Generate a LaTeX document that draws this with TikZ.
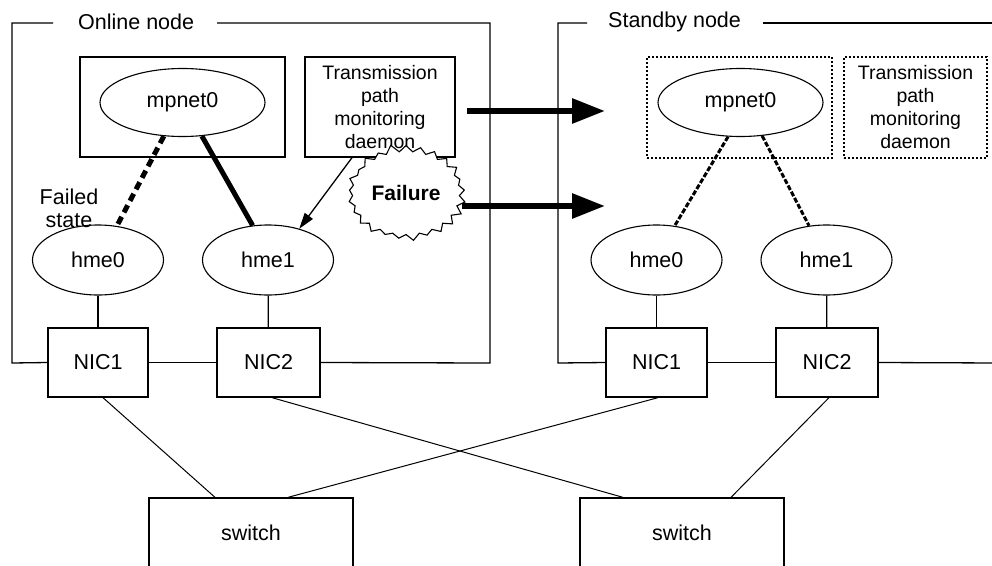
\documentclass[tikz,border=0pt]{standalone}
\usepackage{fontspec}
\setmainfont{Liberation Sans}
\usetikzlibrary{shapes.geometric,shapes.symbols,arrows.meta,calc}
\begin{document}
\begin{tikzpicture}[x=1pt,y=-1pt,
 every node/.style={font=\fontsize{21.5}{23}\selectfont},
 box/.style={draw,line width=1.3pt,rectangle,inner sep=0pt},
 dotbox/.style={draw,line width=1.3pt,dash pattern=on 2pt off 2pt,rectangle,inner sep=0pt},
 oval/.style={draw,line width=1.1pt,ellipse,inner sep=0pt},
 tptext/.style={align=center,font=\fontsize{19.5}{23}\selectfont},
 wire/.style={line width=1.3pt},
 xwire/.style={line width=1pt},
 bigarrow/.style={line width=6pt,-{Triangle[length=33pt,width=24pt]}},
 fatdash/.style={line width=5pt,dash pattern=on 8pt off 5pt},
 fatline/.style={line width=5pt},
 stbdash/.style={line width=3pt,dash pattern=on 5pt off 2pt},
 lbl/.style={anchor=west,inner sep=0pt}
]
\useasboundingbox (0,0) rectangle (992,565);
\clip (0,0) rectangle (992,565);

% ---------------- Online node ----------------
\node[box,minimum width=205pt,minimum height=100pt] (mpbox) at (182.5,107) {};
\node[oval,minimum width=165pt,minimum height=68pt] (mpA) at (182.5,102.5) {mpnet0};
\node[box,tptext,minimum width=150pt,minimum height=100pt] (tpA) at (380,107) {Transmission\\path\\monitoring\\daemon};
\node[oval,minimum width=131pt,minimum height=70pt] (hA0) at (98,260) {hme0};
\node[oval,minimum width=131pt,minimum height=70pt] (hA1) at (268,260) {hme1};
\node[box,minimum width=100pt,minimum height=69pt] (nA1) at (98,362.5) {NIC1};
\node[box,minimum width=103pt,minimum height=69pt] (nA2) at (268.5,362.5) {NIC2};
\node[align=center,inner sep=0pt] (fstate) at (69,208) {Failed\\state};
\node[lbl] (lblA) at (78,22) {Online node};

\coordinate (fa1) at (53,23);
\coordinate (fa2) at (12,23);
\coordinate (fa3) at (12,363);
\coordinate (fa4) at (490,363);
\coordinate (fa5) at (490,23);
\coordinate (fa6) at (217,23);
\draw[wire] (fa1) -- (fa2) -- (fa3) -- (nA1.west);
\draw[wire] (nA1.east) -- (nA2.west);
\draw[wire] (nA2.east) -- (fa4) -- (fa5) -- (fa6);

\draw[fatdash] (mpA.-119.5) -- (hA0.61.6);
\draw[fatline] (mpA.-60.5) -- (hA1.114);
\draw[wire] (hA0) -- (nA1);
\draw[wire] (hA1) -- (nA2);

\node[starburst,draw,fill=white,line width=1.1pt,starburst points=25,
      starburst point height=8pt,random starburst=11,
      minimum width=123pt,minimum height=99pt,inner sep=0pt,
      font=\bfseries\fontsize{21}{23}\selectfont] (fail) at (406,193) {Failure};
\draw[wire,-{Triangle[length=16pt,width=10pt]}] ([xshift=-28pt]tpA.south) -- (hA1.45);

% ---------------- arrows between nodes ----------------
\coordinate (ar1s) at (467,111);
\coordinate (ar1e) at (605,111);
\coordinate (ar2s) at (462,206);
\coordinate (ar2e) at (605,206);
\draw[bigarrow] (ar1s) -- (ar1e);
\draw[bigarrow] (ar2s) -- (ar2e);

% ---------------- Standby node ----------------
\node[dotbox,minimum width=185pt,minimum height=101pt] (mpboxB) at (739.5,107.5) {};
\node[oval,minimum width=165pt,minimum height=68pt] (mpB) at (740.5,102.5) {mpnet0};
\node[dotbox,tptext,minimum width=143pt,minimum height=101pt] (tpB) at (915.5,107.5) {Transmission\\path\\monitoring\\daemon};
\node[oval,minimum width=131pt,minimum height=70pt] (hB0) at (656.5,260) {hme0};
\node[oval,minimum width=131pt,minimum height=70pt] (hB1) at (826.5,260) {hme1};
\node[box,minimum width=101pt,minimum height=69pt] (nB1) at (656.5,362.5) {NIC1};
\node[box,minimum width=102pt,minimum height=69pt] (nB2) at (827,362.5) {NIC2};
\node[lbl] (lblB) at (608,22) {Standby node};

\coordinate (fb1) at (587,23);
\coordinate (fb2) at (558,23);
\coordinate (fb3) at (558,363);
\coordinate (fb4) at (1000,363);
\coordinate (fb5) at (763,23);
\coordinate (fb6) at (1000,23);
\draw[wire] (fb1) -- (fb2) -- (fb3) -- (nB1.west);
\draw[wire] (nB1.east) -- (nB2.west);
\draw[wire] (nB2.east) -- (fb4);
\draw[wire] (fb5) -- (fb6);

\draw[stbdash] (mpB.-110) -- (hB0.62);
\draw[stbdash] (mpB.-57) -- (hB1.117);
\draw[wire] (hB0) -- (nB1);
\draw[wire] (hB1) -- (nB2);

% ---------------- switches ----------------
\node[box,minimum width=204pt,minimum height=70pt] (sw1) at (251,533) {switch};
\node[box,minimum width=204pt,minimum height=70pt] (sw2) at (682,533) {switch};

\draw[xwire] ([xshift=5pt]nA1.south) -- ([xshift=-36pt]sw1.north);
\draw[xwire] ([xshift=3.5pt]nA2.south) -- ([xshift=-59pt]sw2.north);
\draw[xwire] ([xshift=1.5pt]nB1.south) -- ([xshift=37pt]sw1.north);
\draw[xwire] ([xshift=2pt]nB2.south) -- ([xshift=49pt]sw2.north);
\end{tikzpicture}
\end{document}
